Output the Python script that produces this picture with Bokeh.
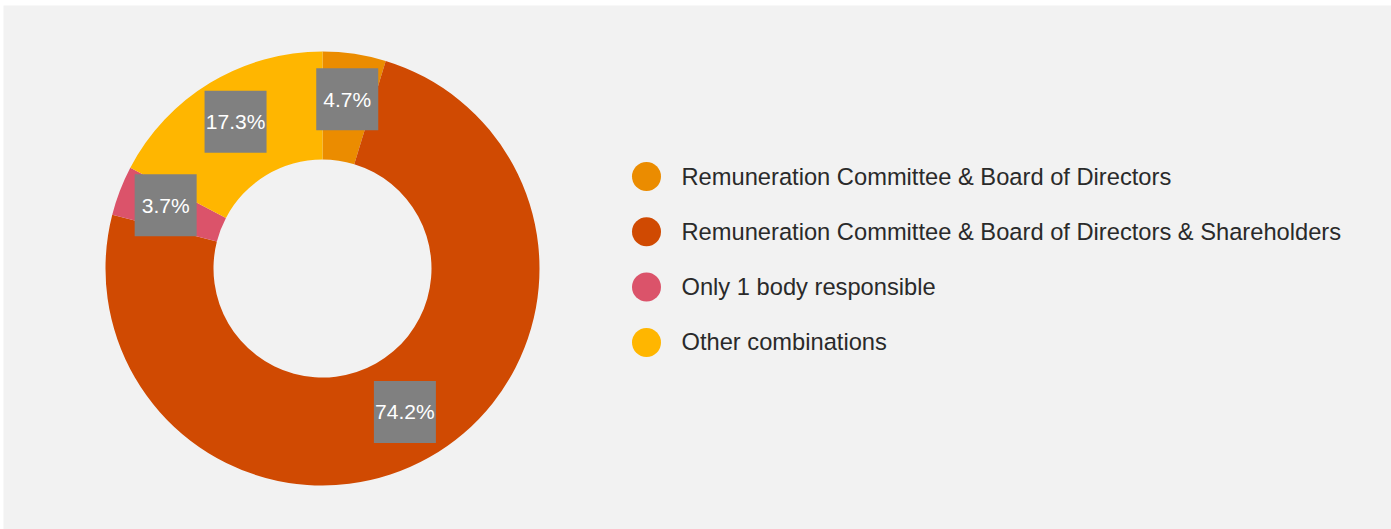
import math
from bokeh.plotting import figure
from bokeh.models import Range1d, ColumnDataSource
from bokeh.embed import file_html
from bokeh.resources import INLINE
from bokeh.core.properties import value

categories = [
    "Remuneration Committee & Board of Directors",
    "Remuneration Committee & Board of Directors & Shareholders",
    "Only 1 body responsible",
    "Other combinations",
]
shares = [4.7, 74.2, 3.7, 17.3]
labels = ["4.7%", "74.2%", "3.7%", "17.3%"]
colors = ["#EB8C00", "#D04A02", "#DB536A", "#FFB600"]

W, H = 1388, 524
p = figure(width=W + 3, height=H + 5, output_backend="svg", toolbar_location=None,
           x_range=Range1d(0, W), y_range=Range1d(0, H),
           min_border_left=3, min_border_top=5, min_border_right=0, min_border_bottom=0,
           border_fill_color="white", background_fill_color="#f2f2f2",
           outline_line_color=None)
p.axis.visible = False
p.grid.visible = False

cx, cy = 319, 261
r_in, r_out, r_lab = 109, 217, 168
total = sum(shares)
starts, ends, lx, ly = [], [], [], []
cum = 0.0
for s in shares:
    a0 = math.pi / 2 - cum / total * 2 * math.pi
    cum += s
    a1 = math.pi / 2 - cum / total * 2 * math.pi
    starts.append(a0)
    ends.append(a1)
    mid = (a0 + a1) / 2
    lx.append(cx + r_lab * math.cos(mid))
    ly.append(cy + r_lab * math.sin(mid) + 3)

src = ColumnDataSource(dict(start=starts, end=ends, color=colors, lx=lx, ly=ly, label=labels))
p.annular_wedge(x=cx, y=cy, inner_radius=r_in, outer_radius=r_out,
                inner_radius_units="screen", outer_radius_units="screen",
                start_angle="start", end_angle="end", direction="clock",
                fill_color="color", line_color=None, source=src)
p.rect(x="lx", y="ly", width=62, height=62, width_units="screen", height_units="screen",
       fill_color="#808080", line_color=None, source=src)
p.text(x="lx", y="ly", text="label", text_align="center", text_baseline="middle",
       text_font=value("Liberation Sans"), text_font_size="21px", text_color="white", source=src)

leg_x, leg_y0, leg_dy = 643, 524 - 171, 55.3
ys = [leg_y0 - i * leg_dy for i in range(len(categories))]
lsrc = ColumnDataSource(dict(x=[leg_x] * len(categories), tx=[leg_x + 35] * len(categories),
                             y=ys, color=colors, name=categories))
p.scatter(x="x", y="y", size=29, fill_color="color", line_color=None, source=lsrc)
p.text(x="tx", y="y", text="name", text_align="left", text_baseline="middle",
       text_font=value("Liberation Sans"), text_font_size="23.7px", text_color="#2a2a2a", source=lsrc)

open("out.html", "w").write(file_html(p, INLINE))
